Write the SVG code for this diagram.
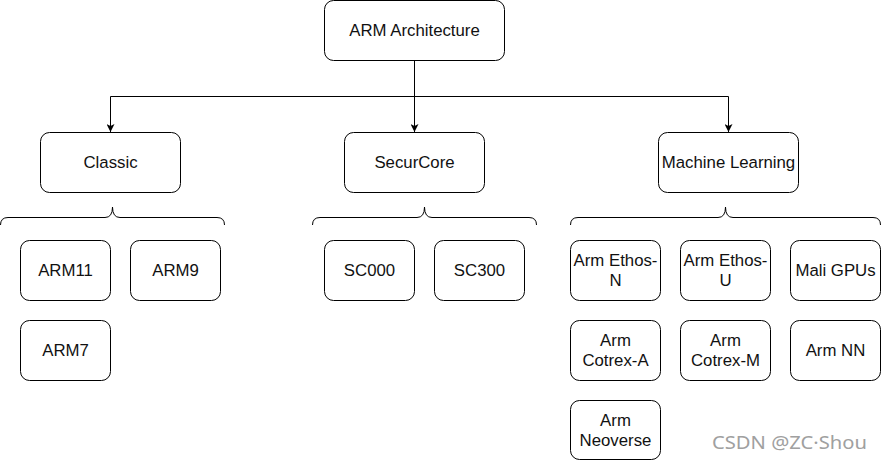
<svg xmlns="http://www.w3.org/2000/svg" width="882" height="461" viewBox="0 0 882 461">
<defs>
<marker id="arr" viewBox="0 0 10 10" refX="10" refY="5" markerWidth="8" markerHeight="8" markerUnits="userSpaceOnUse" orient="auto">
<path d="M0,0 L10,5 L0,10 L2.5,5 Z" fill="#000"/>
</marker>
<style>
.n rect{fill:#fff;stroke:#000;stroke-width:1}
.n text{font-family:"Liberation Sans",Arial,sans-serif;font-size:16.8px;fill:#111;text-anchor:middle}
.e{fill:none;stroke:#000;stroke-width:1}
.b{fill:none;stroke:#000;stroke-width:1}
</style>
</defs>
<rect width="882" height="461" fill="#fff"/>
<g id="connectors">
<path class="e" d="M414.5,60 V132" marker-end="url(#arr)"/>
<path class="e" d="M414.5,60 V96.5 H110.5 V132" marker-end="url(#arr)"/>
<path class="e" d="M414.5,60 V96.5 H728.5 V132" marker-end="url(#arr)"/>
</g>
<g id="braces">
<path class="b" d="M0.5,225 Q0.5,217.5 8,217.5 H105 Q112.5,217.5 112.5,207 Q112.5,217.5 120,217.5 H217 Q224.5,217.5 224.5,225"/>
<path class="b" d="M312.5,225 Q312.5,217.5 320,217.5 H417 Q424.5,217.5 424.5,207 Q424.5,217.5 432,217.5 H529 Q536.5,217.5 536.5,225"/>
<path class="b" d="M570.5,225 Q570.5,217.5 578,217.5 H718 Q725.5,217.5 725.5,207 Q725.5,217.5 733,217.5 H873 Q880.5,217.5 880.5,225"/>
</g>
<g id="arm" class="n"><rect x="324.5" y="0.5" width="180" height="60" rx="9"/><text x="414.5" y="36">ARM Architecture</text></g>
<g id="classic" class="n"><rect x="40.5" y="132.5" width="140" height="60" rx="9"/><text x="110.5" y="168">Classic</text></g>
<g id="securcore" class="n"><rect x="344.5" y="132.5" width="140" height="60" rx="9"/><text x="414.5" y="168">SecurCore</text></g>
<g id="ml" class="n"><rect x="658.5" y="132.5" width="140" height="60" rx="9"/><text x="728.5" y="168">Machine Learning</text></g>
<g id="arm11" class="n"><rect x="20.5" y="240.5" width="90" height="60" rx="9"/><text x="65.5" y="276">ARM11</text></g>
<g id="arm9" class="n"><rect x="130.5" y="240.5" width="90" height="60" rx="9"/><text x="175.5" y="276">ARM9</text></g>
<g id="arm7" class="n"><rect x="20.5" y="320.5" width="90" height="60" rx="9"/><text x="65.5" y="356">ARM7</text></g>
<g id="sc000" class="n"><rect x="324.5" y="240.5" width="90" height="60" rx="9"/><text x="369.5" y="276">SC000</text></g>
<g id="sc300" class="n"><rect x="434.5" y="240.5" width="90" height="60" rx="9"/><text x="479.5" y="276">SC300</text></g>
<g id="ethosn" class="n"><rect x="570.5" y="240.5" width="90" height="60" rx="9"/><text x="615.5" y="266">Arm Ethos-</text><text x="615.5" y="286">N</text></g>
<g id="ethosu" class="n"><rect x="680.5" y="240.5" width="90" height="60" rx="9"/><text x="725.5" y="266">Arm Ethos-</text><text x="725.5" y="286">U</text></g>
<g id="mali" class="n"><rect x="790.5" y="240.5" width="90" height="60" rx="9"/><text x="835.5" y="276">Mali GPUs</text></g>
<g id="cortexa" class="n"><rect x="570.5" y="320.5" width="90" height="60" rx="9"/><text x="615.5" y="346">Arm</text><text x="615.5" y="366">Cotrex-A</text></g>
<g id="cortexm" class="n"><rect x="680.5" y="320.5" width="90" height="60" rx="9"/><text x="725.5" y="346">Arm</text><text x="725.5" y="366">Cotrex-M</text></g>
<g id="armnn" class="n"><rect x="790.5" y="320.5" width="90" height="60" rx="9"/><text x="835.5" y="356">Arm NN</text></g>
<g id="neoverse" class="n"><rect x="570.5" y="400.5" width="90" height="59" rx="9"/><text x="615.5" y="426">Arm</text><text x="615.5" y="446">Neoverse</text></g>
<text x="712" y="449" font-family="'Noto Sans','Noto Sans CJK SC',sans-serif" font-size="18" fill="#a0a0a0" textLength="155" lengthAdjust="spacingAndGlyphs">CSDN @ZC·Shou</text>
</svg>
